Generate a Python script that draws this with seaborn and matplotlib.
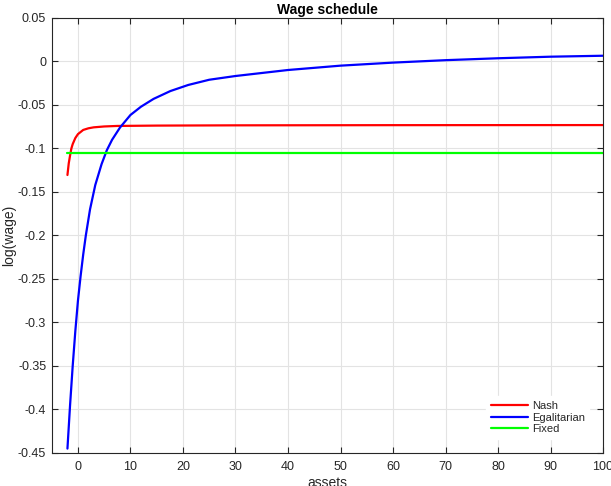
import matplotlib
matplotlib.use("Agg")
import matplotlib.pyplot as plt
import matplotlib.ticker as mticker
import numpy as np
import pandas as pd
import seaborn as sns

# values
nash_assets = [-2, -1.75, -1.5, -1.25, -1, -0.5, 0, 1, 2, 3, 5, 7.5, 15, 30, 60, 100]
nash_logwage = [-0.1305, -0.117, -0.108, -0.100, -0.095, -0.088, -0.0835, -0.0787, -0.0768,
                -0.0757, -0.0747, -0.0741, -0.0737, -0.0734, -0.0732, -0.0731]

egal_assets = [-2, -1.5, -1, -0.5, 0, 0.5, 1, 1.5, 2.3, 3.3, 4.5, 5.5, 6.5, 8, 10, 12, 14.4,
               17.6, 21, 25, 30, 40, 50, 60, 70, 80, 90, 100]
egal_logwage = [-0.445, -0.395, -0.350, -0.310, -0.275, -0.247, -0.222, -0.200, -0.170, -0.142,
                -0.118, -0.102, -0.090, -0.076, -0.0615, -0.052, -0.043, -0.034, -0.027, -0.021,
                -0.0167, -0.0098, -0.0048, -0.0013, 0.0015, 0.0037, 0.0055, 0.0066]

fixed_assets = [-2, 100]
fixed_logwage = [-0.105, -0.105]

series_names = ["Nash", "Egalitarian", "Fixed"]
series_colors = ["#ff0000", "#0000ff", "#00ff00"]

sns.set_style("whitegrid")
plt.rcParams['font.family'] = ['Liberation Sans', 'DejaVu Sans']
plt.rcParams['axes.unicode_minus'] = False

fig = plt.figure(figsize=(6.11, 4.86), dpi=100)
ax = fig.add_axes([0.0846, 0.068, 0.9024, 0.895])

data = [(nash_assets, nash_logwage), (egal_assets, egal_logwage), (fixed_assets, fixed_logwage)]
for (xs, ys), name, color in zip(data, series_names, series_colors):
    df = pd.DataFrame({"assets": xs, "log(wage)": ys})
    sns.lineplot(data=df, x="assets", y="log(wage)", color=color, label=name, linewidth=1.6, ax=ax)

ax.set_xlim(-5, 100)
ax.set_ylim(-0.45, 0.05)
ax.set_xticks(np.arange(0, 101, 10))
ax.set_yticks(np.arange(-0.45, 0.051, 0.05))
ax.yaxis.set_major_formatter(mticker.FuncFormatter(lambda v, p: "%g" % (round(v, 2) + 0.0)))

ax.set_title("Wage schedule", fontsize=10, fontweight="bold", color="#000000", pad=3)
ax.set_xlabel("assets", fontsize=10, color="#262626", labelpad=2)
ax.set_ylabel("log(wage)", fontsize=10, color="#262626", labelpad=1)

ax.grid(True, color="#e3e3e3", linewidth=0.8)
for s in ax.spines.values():
    s.set_visible(True)
    s.set_color("#262626")
    s.set_linewidth(0.8)
ax.tick_params(axis="both", direction="in", length=4, width=0.8, color="#262626",
               labelsize=9, labelcolor="#262626", top=True, right=True, bottom=True, left=True)
ax.tick_params(axis="x", pad=6)
ax.tick_params(axis="y", pad=4)

leg = ax.legend(loc="lower right", bbox_to_anchor=(0.985, 0.02), frameon=True, fontsize=8,
                handlelength=3.4, handletextpad=0.3, labelspacing=0.15, borderpad=0.4)
leg.get_frame().set_edgecolor("white")
leg.get_frame().set_facecolor("white")
leg.get_frame().set_alpha(1)

fig.savefig("out.png", dpi=100)
